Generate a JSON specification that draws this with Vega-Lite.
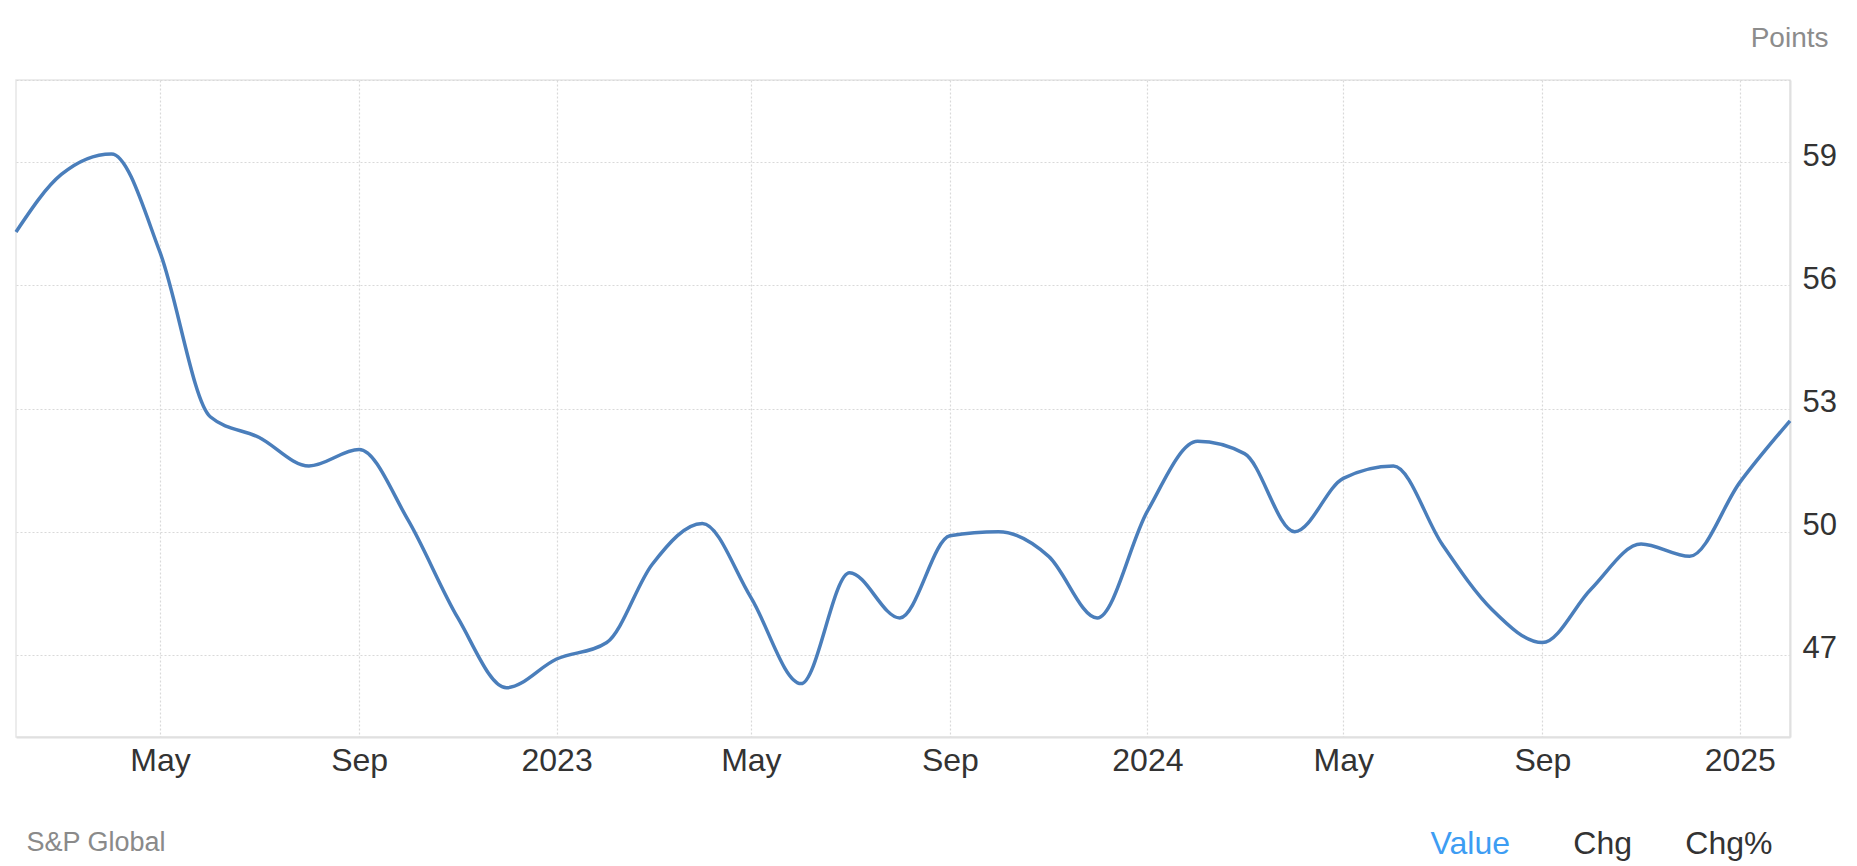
{
  "$schema": "https://vega.github.io/schema/vega-lite/v6.json",
  "width": 1774,
  "height": 657,
  "autosize": {"type": "none"},
  "padding": {"left": 16, "top": 80, "right": 67, "bottom": 129},
  "background": "white",
  "config": {
    "font": "Liberation Sans",
    "view": {"stroke": "#e6e6e6", "strokeWidth": 1.5}
  },
  "data": {
    "values": [
      {"date": "2022-02-01", "value": 57.3},
      {"date": "2022-03-01", "value": 58.7},
      {"date": "2022-04-01", "value": 59.2},
      {"date": "2022-05-01", "value": 56.8},
      {"date": "2022-06-01", "value": 52.8},
      {"date": "2022-07-01", "value": 52.3},
      {"date": "2022-08-01", "value": 51.6},
      {"date": "2022-09-01", "value": 52.0},
      {"date": "2022-10-01", "value": 50.3},
      {"date": "2022-11-01", "value": 47.9},
      {"date": "2022-12-01", "value": 46.2},
      {"date": "2023-01-01", "value": 46.9},
      {"date": "2023-02-01", "value": 47.3},
      {"date": "2023-03-01", "value": 49.2},
      {"date": "2023-04-01", "value": 50.2},
      {"date": "2023-05-01", "value": 48.4},
      {"date": "2023-06-01", "value": 46.3},
      {"date": "2023-07-01", "value": 49.0},
      {"date": "2023-08-01", "value": 47.9},
      {"date": "2023-09-01", "value": 49.9},
      {"date": "2023-10-01", "value": 50.0},
      {"date": "2023-11-01", "value": 49.4},
      {"date": "2023-12-01", "value": 47.9},
      {"date": "2024-01-01", "value": 50.5},
      {"date": "2024-02-01", "value": 52.2},
      {"date": "2024-03-01", "value": 51.9},
      {"date": "2024-04-01", "value": 50.0},
      {"date": "2024-05-01", "value": 51.3},
      {"date": "2024-06-01", "value": 51.6},
      {"date": "2024-07-01", "value": 49.7},
      {"date": "2024-08-01", "value": 48.1},
      {"date": "2024-09-01", "value": 47.3},
      {"date": "2024-10-01", "value": 48.6},
      {"date": "2024-11-01", "value": 49.7},
      {"date": "2024-12-01", "value": 49.4},
      {"date": "2025-01-01", "value": 51.2},
      {"date": "2025-02-01", "value": 52.7}
    ]
  },
  "layer": [
    {
      "mark": {"type": "line", "interpolate": "monotone", "color": "#4a7ebb", "strokeWidth": 3.5},
      "encoding": {
        "x": {
          "field": "date",
          "type": "temporal",
          "scale": {
            "type": "utc",
            "nice": false,
            "domain": [
              {"year": 2022, "month": 2, "date": 1, "utc": true},
              {"year": 2025, "month": 2, "date": 1, "utc": true}
            ]
          },
          "axis": {
            "orient": "bottom",
            "values": [
              {"year": 2022, "month": 5, "date": 1, "utc": true},
              {"year": 2022, "month": 9, "date": 1, "utc": true},
              {"year": 2023, "month": 1, "date": 1, "utc": true},
              {"year": 2023, "month": 5, "date": 1, "utc": true},
              {"year": 2023, "month": 9, "date": 1, "utc": true},
              {"year": 2024, "month": 1, "date": 1, "utc": true},
              {"year": 2024, "month": 5, "date": 1, "utc": true},
              {"year": 2024, "month": 9, "date": 1, "utc": true},
              {"year": 2025, "month": 1, "date": 1, "utc": true}
            ],
            "labelExpr": "utcmonth(datum.value) == 0 ? utcFormat(datum.value, '%Y') : utcFormat(datum.value, '%b')",
            "labelFontSize": 32,
            "labelColor": "#333333",
            "labelPadding": 8,
            "labelFlush": false,
            "ticks": false,
            "domain": true,
            "domainColor": "#e0e0e0",
            "domainWidth": 2,
            "grid": true,
            "gridColor": "#d9d9d9",
            "gridDash": [2, 2],
            "gridWidth": 1.2,
            "title": "S&P Global",
            "titleFontSize": 27,
            "titleFontWeight": "normal",
            "titleColor": "#8a8a8a",
            "titleAlign": "left",
            "titleBaseline": "alphabetic",
            "titleX": 10,
            "titleY": 113
          }
        },
        "y": {
          "field": "value",
          "type": "quantitative",
          "scale": {"domain": [45, 61], "nice": false, "zero": false},
          "axis": {
            "orient": "right",
            "values": [47, 50, 53, 56, 59, 61],
            "labelExpr": "datum.value > 60 ? '' : datum.label",
            "labelFontSize": 31,
            "labelColor": "#333333",
            "labelPadding": 12,
            "labelOffset": -6,
            "ticks": false,
            "domain": true,
            "domainColor": "#e0e0e0",
            "domainWidth": 2,
            "grid": true,
            "gridColor": "#d9d9d9",
            "gridDash": [2, 2],
            "gridWidth": 1.2,
            "title": "Points",
            "titleFontSize": 28,
            "titleFontWeight": "normal",
            "titleColor": "#8c8c8c",
            "titleAngle": 0,
            "titleAlign": "right",
            "titleBaseline": "alphabetic",
            "titleX": 38,
            "titleY": -34
          }
        }
      }
    },
    {
      "mark": {"type": "line", "interpolate": "monotone", "strokeOpacity": 0},
      "encoding": {
        "x": {
          "field": "date",
          "type": "temporal",
          "scale": {
            "type": "utc",
            "nice": false,
            "domain": [
              {"year": 2022, "month": 2, "date": 1, "utc": true},
              {"year": 2025, "month": 2, "date": 1, "utc": true}
            ]
          },
          "axis": {
            "orient": "top",
            "labels": false,
            "ticks": false,
            "domain": false,
            "grid": false,
            "title": "Chg\u00a0\u00a0\u00a0\u00a0\u00a0\u00a0Chg%",
            "titleFontSize": 32,
            "titleFontWeight": "normal",
            "titleColor": "#333333",
            "titleAlign": "right",
            "titleBaseline": "alphabetic",
            "titleX": 1756,
            "titleY": 773
          }
        },
        "y": {
          "field": "value",
          "type": "quantitative",
          "scale": {"domain": [45, 61], "nice": false, "zero": false},
          "axis": {
            "orient": "left",
            "labels": false,
            "ticks": false,
            "domain": false,
            "grid": false,
            "title": "Value",
            "titleFontSize": 32,
            "titleFontWeight": "normal",
            "titleColor": "#3d9df3",
            "titleAngle": 0,
            "titleAlign": "left",
            "titleBaseline": "alphabetic",
            "titleX": 1414,
            "titleY": 773
          }
        }
      }
    }
  ],
  "resolve": {"scale": {"x": "independent", "y": "independent"}, "axis": {"x": "independent", "y": "independent"}}
}
